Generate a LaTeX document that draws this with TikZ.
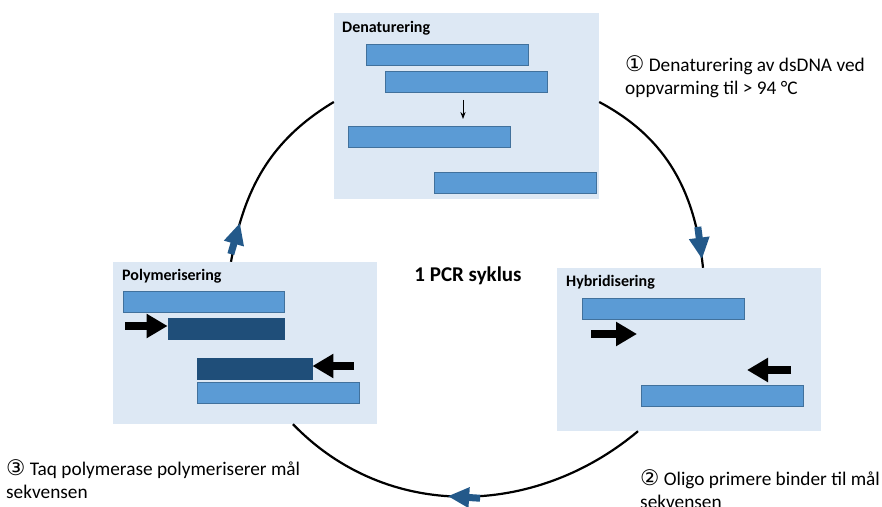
\documentclass[tikz,border=0pt]{standalone}
\usepackage{fontspec}
\setmainfont{Carlito}
\newfontfamily\circfont{DejaVu Sans}
\usetikzlibrary{arrows.meta,decorations.markings}
\definecolor{boxbg}{RGB}{221,232,244}
\definecolor{strand}{RGB}{91,155,213}
\definecolor{strandline}{RGB}{65,113,156}
\definecolor{newstrand}{RGB}{31,78,121}
\definecolor{cycblue}{RGB}{35,89,138}
\newcommand{\stepno}[1]{{\circfont\fontsize{21.5}{23}\selectfont #1}}
\begin{document}
\begin{tikzpicture}[x=1pt,y=1pt,>=Stealth,
		stage/.style={fill=boxbg,minimum width=264,minimum height=163,inner sep=0},
		stagename/.style={font=\fontsize{16}{19}\selectfont\bfseries,anchor=base west,inner sep=0},
		bar/.style={fill=strand,draw=strandline,line width=0.8,minimum width=162,minimum height=21,inner sep=0},
		newbar/.style={bar,fill=newstrand,draw=newstrand,minimum width=116},
		primer/.style={line width=8,-{Triangle[length=21pt,width=23pt]}},
		note/.style={font=\fontsize{19.3}{23}\selectfont,align=left,anchor=base west,inner sep=0},
		cyc/.style={line width=2.2,postaction={decorate},decoration={markings,
			mark=at position #1 with {\fill[cycblue] (-32pt,-3.5pt) rectangle (-19pt,3.5pt);
				\fill[cycblue] (-21pt,-10.5pt) -- (0pt,0pt) -- (-21pt,10.5pt) -- cycle;}}}]
	\useasboundingbox (0,0) rectangle (882,506);
	% the three stages
	\node[stage,minimum width=265,minimum height=186] (den) at (466.5,400) {};
	\node[stage,minimum height=162] (poly) at (245,163) {};
	\node[stage] (hyb) at (689,156.5) {};
	\node[stagename] (denlab) at (342,473) {Denaturering};
	\node[stagename] (polylab) at (122,225) {Polymerisering};
	\node[stagename] (hyblab) at (566,219) {Hybridisering};
	% denaturering: double strand -> two single strands
	\node[bar] (d1) at (447,451.5) {};
	\node[bar] (d2) at (466.5,424) {};
	\node[bar] (d3) at (429.5,369.5) {};
	\node[bar] (d4) at (515,323) {};
	\coordinate (melt) at (463,406);
	\coordinate (meltend) at (463,387);
	\draw[->,line width=0.9] (melt) -- (meltend);
	% hybridisering: primers bind
	\node[bar] (h1) at (663,197.5) {};
	\node[bar] (h2) at (722,110.5) {};
	\coordinate (hf) at (591,172);
	\coordinate (hfe) at (637,172);
	\coordinate (hr) at (791,136);
	\coordinate (hre) at (747,136);
	\draw[primer] (hf) -- (hfe);
	\draw[primer] (hr) -- (hre);
	% polymerisering: new strands
	\node[bar,minimum width=161] (p1) at (203.5,204.5) {};
	\node[newbar] (p2) at (226,177.5) {};
	\node[newbar,minimum width=115] (p3) at (254.5,137) {};
	\node[bar] (p4) at (278,113.5) {};
	\coordinate (pf) at (125,180);
	\coordinate (pr) at (354,140);
	\draw[primer] (pf) -- (pf -| p2.west);
	\draw[primer] (pr) -- (pr -| p3.east);
	% the cycle
	\draw[cyc=0.2] ([xshift=-14]poly.north) to[out=80,in=211] ([yshift=4]den.west);
	\draw[cyc=0.955] ([yshift=4]den.east) to[out=-28,in=96] ([xshift=14]hyb.north);
	\draw[cyc=0.54] ([xshift=-51]hyb.south) to[out=220,in=-46] ([xshift=48]poly.south);
	\node[font=\fontsize{21}{25}\selectfont\bfseries] (pcr) at (468,230) {1 PCR syklus};
	% base of a two-line note is its last line
	\node[note] (n1) at (625,411) {\stepno{①} Denaturering av dsDNA ved\\oppvarming til > 94 °C};
	\node[note] (n2) at (640,-2) {\stepno{②} Oligo primere binder til mål\\sekvensen};
	\node[note] (n3) at (6,8) {\stepno{③} Taq polymerase polymeriserer mål\\sekvensen};
\end{tikzpicture}
\end{document}
